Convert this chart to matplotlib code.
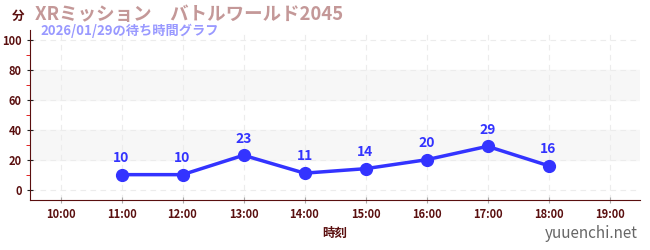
import matplotlib.pyplot as plt
import numpy as np

plt.rcParams['font.family'] = ['Noto Sans CJK JP', 'DejaVu Sans']

# data
hours = [11, 12, 13, 14, 15, 16, 17, 18]
waits = [10, 10, 23, 11, 14, 20, 29, 16]
tick_hours = list(range(10, 20))
tick_labels = ['%d:00' % h for h in tick_hours]
y_ticks = [0, 20, 40, 60, 80, 100]

axis_col = '#5a0f0f'
line_col = '#3333ff'

fig = plt.figure(figsize=(6.5, 2.5), dpi=100)
ax = fig.add_axes([30 / 650, 50 / 250, 610 / 650, 170 / 250])

ax.set_xlim(9.5, 19.5)
ax.set_ylim(-7, 107)

# shaded bands
for lo, hi in [(20, 40), (60, 80)]:
    ax.axhspan(lo, hi, color='#f7f7f7', zorder=0)

ax.grid(True, color='#ececec', linestyle=(0, (5, 4)), linewidth=0.8, zorder=0)
ax.set_axisbelow(True)

ax.plot(hours, waits, color=line_col, linewidth=2.5, marker='o', markersize=8.5, zorder=3)
for h, w in zip(hours, waits):
    ax.annotate(str(w), (h, w), xytext=(0, 7), textcoords='offset points',
                ha='center', va='bottom', color=line_col, fontsize=10, fontweight='bold')

ax.set_xticks(tick_hours)
ax.set_xticklabels(tick_labels)
ax.set_yticks(y_ticks)
ax.set_yticks([10, 30, 50, 70, 90], minor=True)
ax.tick_params(axis='both', colors='#222222', labelcolor=axis_col, labelsize=8, length=5,
               direction='inout')
ax.tick_params(axis='y', which='minor', color='#dd0000', length=3, direction='out')
ax.tick_params(axis='x', colors='#aaaaaa', labelcolor=axis_col, direction='inout')
for lbl in ax.get_xticklabels() + ax.get_yticklabels():
    lbl.set_fontweight('bold')

for s in ['top', 'right']:
    ax.spines[s].set_visible(False)
ax.spines['left'].set_color(axis_col)
ax.spines['bottom'].set_color(axis_col)

ax.set_xlabel('時刻', color=axis_col, fontsize=9, fontweight='bold')

fig.text(12 / 650, 1 - 16 / 250, '分', color=axis_col, fontsize=9, fontweight='bold', va='center')
fig.text(35 / 650, 1 - 14 / 250, 'XRミッション　バトルワールド2045', color='#c49898',
         fontsize=13.3, fontweight='bold', va='center')
fig.text(40 / 650, 1 - 31 / 250, '2026/01/29の待ち時間グラフ', color='#9999ff',
         fontsize=9.5, fontweight='bold', va='center')
fig.text(638 / 650, 1 - 234 / 250, 'yuuenchi.net', color='#666666', fontsize=11,
         ha='right', va='center')

fig.savefig('out.png', dpi=100)
